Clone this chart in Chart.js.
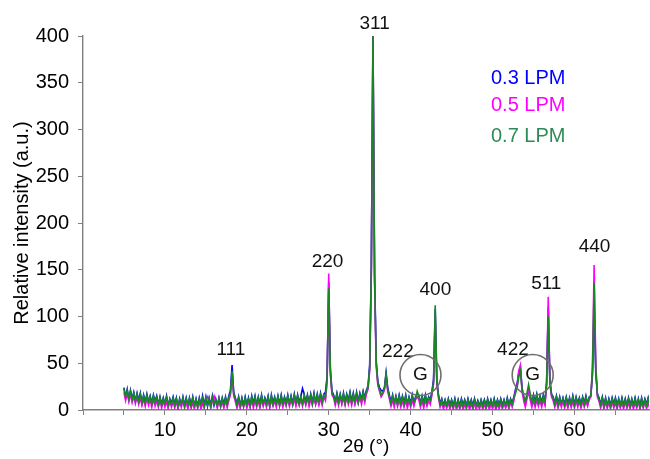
<!DOCTYPE html>
<html>
<head>
<meta charset="utf-8">
<script src="https://cdn.jsdelivr.net/npm/chart.js@4.4.1/dist/chart.umd.min.js"></script>
<style>
  html, body { margin: 0; padding: 0; background: #fff; }
</style>
</head>
<body>
<canvas id="xrd" width="650" height="459"></canvas>
<script>
// 2θ sampling positions (degrees)
const twoTheta = [
  5, 5.2, 5.4, 5.6, 5.8, 6, 6.2, 6.4, 6.6, 6.8,
  7, 7.2, 7.4, 7.6, 7.8, 8, 8.2, 8.4, 8.6, 8.8,
  9, 9.2, 9.4, 9.6, 9.8, 10, 10.2, 10.4, 10.6, 10.8,
  11, 11.2, 11.4, 11.6, 11.8, 12, 12.2, 12.4, 12.6, 12.8,
  13, 13.2, 13.4, 13.6, 13.8, 14, 14.2, 14.4, 14.6, 14.8,
  15, 15.2, 15.4, 15.6, 15.8, 16, 16.2, 16.4, 16.6, 16.8,
  17, 17.2, 17.4, 17.6, 17.8, 18, 18.2, 18.4, 18.6, 18.8,
  19, 19.2, 19.4, 19.6, 19.8, 20, 20.2, 20.4, 20.6, 20.8,
  21, 21.2, 21.4, 21.6, 21.8, 22, 22.2, 22.4, 22.6, 22.8,
  23, 23.2, 23.4, 23.6, 23.8, 24, 24.2, 24.4, 24.6, 24.8,
  25, 25.2, 25.4, 25.6, 25.8, 26, 26.2, 26.4, 26.6, 26.8,
  27, 27.2, 27.4, 27.6, 27.8, 28, 28.2, 28.4, 28.6, 28.8,
  29, 29.2, 29.4, 29.6, 29.8, 30, 30.2, 30.4, 30.6, 30.8,
  31, 31.2, 31.4, 31.6, 31.8, 32, 32.2, 32.4, 32.6, 32.8,
  33, 33.2, 33.4, 33.6, 33.8, 34, 34.2, 34.4, 34.6, 34.8,
  35, 35.2, 35.4, 35.6, 35.8, 36, 36.2, 36.4, 36.6, 36.8,
  37, 37.2, 37.4, 37.6, 37.8, 38, 38.2, 38.4, 38.6, 38.8,
  39, 39.2, 39.4, 39.6, 39.8, 40, 40.2, 40.4, 40.6, 40.8,
  41, 41.2, 41.4, 41.6, 41.8, 42, 42.2, 42.4, 42.6, 42.8,
  43, 43.2, 43.4, 43.6, 43.8, 44, 44.2, 44.4, 44.6, 44.8,
  45, 45.2, 45.4, 45.6, 45.8, 46, 46.2, 46.4, 46.6, 46.8,
  47, 47.2, 47.4, 47.6, 47.8, 48, 48.2, 48.4, 48.6, 48.8,
  49, 49.2, 49.4, 49.6, 49.8, 50, 50.2, 50.4, 50.6, 50.8,
  51, 51.2, 51.4, 51.6, 51.8, 52, 52.2, 52.4, 52.6, 52.8,
  53, 53.2, 53.4, 53.6, 53.8, 54, 54.2, 54.4, 54.6, 54.8,
  55, 55.2, 55.4, 55.6, 55.8, 56, 56.2, 56.4, 56.6, 56.8,
  57, 57.2, 57.4, 57.6, 57.8, 58, 58.2, 58.4, 58.6, 58.8,
  59, 59.2, 59.4, 59.6, 59.8, 60, 60.2, 60.4, 60.6, 60.8,
  61, 61.2, 61.4, 61.6, 61.8, 62, 62.2, 62.4, 62.6, 62.8,
  63, 63.2, 63.4, 63.6, 63.8, 64, 64.2, 64.4, 64.6, 64.8,
  65, 65.2, 65.4, 65.6, 65.8, 66, 66.2, 66.4, 66.6, 66.8,
  67, 67.2, 67.4, 67.6, 67.8, 68, 68.2, 68.4, 68.6, 68.8,
  69, 69.2, 69.4, 69.6
];

// intensities, one row per 2 degrees
const lpm03 = [
  24, 13, 22, 11, 21, 12, 19, 9, 18, 10,
  18, 7, 16, 8, 17, 8, 15, 7, 16, 9,
  15, 5, 14, 6, 13, 6, 15, 4, 12, 7,
  14, 6, 13, 3, 12, 5, 14, 5, 13, 4,
  13, 5, 14, 4, 12, 4, 13, 5, 15, 5,
  14, 4, 13, 5, 15, 5, 12, 4, 13, 5,
  13, 6, 14, 5, 15, 21, 48, 19, 13, 6,
  14, 4, 13, 5, 14, 5, 13, 4, 15, 7,
  15, 5, 14, 6, 16, 6, 13, 7, 15, 4,
  16, 7, 14, 6, 15, 6, 16, 6, 14, 7,
  16, 6, 15, 7, 17, 7, 16, 7, 15, 23,
  17, 8, 16, 7, 17, 8, 18, 7, 17, 8,
  18, 9, 17, 19, 36, 137, 44, 20, 16, 9,
  18, 9, 17, 8, 18, 8, 17, 10, 19, 9,
  18, 8, 19, 9, 18, 11, 20, 13, 21, 26,
  48, 155, 400, 145, 52, 30, 24, 21, 20, 24,
  40, 24, 16, 8, 16, 7, 15, 7, 16, 8,
  15, 7, 16, 6, 14, 7, 16, 7, 14, 17,
  16, 6, 15, 7, 16, 7, 14, 11, 20, 33,
  108, 32, 16, 7, 12, 5, 11, 4, 12, 5,
  11, 4, 12, 3, 11, 4, 12, 5, 11, 4,
  12, 5, 11, 4, 12, 4, 10, 4, 11, 5,
  11, 4, 12, 5, 11, 4, 12, 4, 11, 5,
  12, 5, 11, 4, 13, 5, 12, 7, 14, 22,
  28, 40, 46, 24, 14, 9, 15, 22, 14, 7,
  16, 8, 17, 7, 15, 8, 16, 8, 30, 110,
  32, 17, 14, 7, 15, 6, 14, 6, 13, 6,
  14, 6, 13, 5, 15, 6, 14, 7, 13, 6,
  14, 7, 15, 6, 14, 15, 38, 112, 40, 17,
  13, 6, 14, 5, 13, 4, 12, 5, 13, 6,
  13, 5, 12, 4, 13, 5, 12, 4, 13, 5,
  12, 5, 13, 4, 12, 4, 13, 5, 12, 6,
  13, 5, 12, 4
];

const lpm05 = [
  19, 10, 18, 9, 17, 8, 15, 7, 14, 6,
  13, 5, 12, 4, 13, 5, 11, 3, 12, 4,
  10, 3, 11, 2, 10, 3, 9, 2, 10, 3,
  9, 2, 10, 1, 9, 3, 10, 2, 9, 1,
  9, 2, 8, 1, 10, 2, 9, 1, 8, 2,
  10, 14, 9, 2, 10, 15, 9, 2, 12, 3,
  9, 2, 10, 3, 10, 16, 38, 15, 9, 2,
  10, 2, 9, 3, 10, 2, 9, 3, 10, 2,
  11, 3, 10, 2, 11, 4, 10, 3, 11, 3,
  11, 4, 10, 3, 12, 4, 11, 3, 10, 4,
  12, 4, 11, 5, 12, 4, 11, 5, 12, 4,
  12, 5, 13, 4, 12, 5, 13, 6, 12, 5,
  13, 5, 14, 10, 30, 146, 38, 16, 13, 5,
  13, 5, 14, 6, 13, 5, 14, 6, 13, 5,
  14, 6, 13, 7, 14, 6, 15, 8, 17, 22,
  42, 145, 400, 135, 46, 26, 20, 14, 17, 21,
  35, 20, 12, 4, 11, 3, 12, 4, 11, 3,
  10, 3, 11, 2, 10, 3, 11, 4, 11, 14,
  11, 3, 10, 2, 11, 4, 10, 6, 16, 28,
  100, 28, 13, 3, 8, 1, 7, 2, 8, 1,
  7, 1, 8, 0, 7, 1, 8, 0, 7, 1,
  8, 0, 7, 1, 8, 0, 7, 1, 8, 0,
  7, 1, 8, 0, 7, 1, 8, 0, 7, 1,
  8, 1, 7, 2, 8, 1, 9, 3, 10, 20,
  26, 42, 48, 20, 10, 3, 12, 20, 11, 3,
  10, 3, 11, 4, 10, 3, 11, 5, 26, 121,
  28, 14, 10, 3, 10, 2, 9, 3, 10, 2,
  9, 2, 10, 3, 9, 2, 10, 3, 9, 2,
  10, 3, 9, 4, 11, 14, 46, 155, 50, 14,
  9, 2, 10, 1, 9, 2, 8, 1, 9, 2,
  8, 1, 9, 2, 8, 1, 9, 2, 8, 1,
  9, 1, 8, 2, 9, 1, 8, 2, 9, 1,
  8, 1, 9, 2
];

const lpm07 = [
  23, 14, 21, 12, 20, 11, 18, 10, 17, 9,
  17, 8, 15, 7, 16, 9, 14, 6, 15, 8,
  14, 6, 13, 5, 12, 7, 14, 5, 11, 6,
  13, 5, 12, 4, 11, 6, 13, 4, 12, 5,
  12, 4, 13, 5, 11, 3, 12, 6, 13, 4,
  13, 5, 12, 4, 14, 6, 11, 5, 12, 4,
  12, 5, 13, 6, 14, 18, 42, 17, 12, 5,
  13, 5, 12, 4, 13, 6, 12, 5, 14, 6,
  14, 6, 13, 5, 15, 7, 12, 6, 14, 5,
  15, 6, 13, 7, 14, 5, 15, 7, 13, 6,
  15, 7, 14, 6, 16, 8, 15, 6, 14, 7,
  16, 7, 15, 8, 16, 7, 17, 8, 16, 9,
  17, 8, 16, 13, 32, 130, 40, 18, 15, 8,
  17, 8, 16, 9, 17, 7, 16, 9, 18, 8,
  17, 9, 18, 8, 17, 10, 19, 12, 21, 24,
  45, 150, 400, 140, 50, 28, 22, 16, 19, 23,
  38, 22, 14, 7, 15, 8, 14, 6, 15, 7,
  14, 6, 15, 7, 13, 6, 15, 8, 12, 20,
  15, 7, 14, 6, 15, 8, 13, 10, 18, 30,
  112, 30, 15, 6, 11, 4, 10, 5, 11, 4,
  10, 3, 11, 4, 10, 3, 11, 4, 10, 3,
  11, 4, 10, 3, 11, 5, 9, 3, 10, 4,
  10, 3, 11, 4, 10, 5, 11, 3, 10, 4,
  11, 4, 10, 5, 12, 4, 11, 6, 13, 18,
  24, 35, 42, 22, 15, 8, 18, 27, 17, 8,
  15, 7, 16, 8, 14, 7, 15, 9, 28, 100,
  30, 16, 13, 6, 14, 5, 13, 7, 12, 5,
  13, 5, 12, 6, 14, 5, 13, 6, 12, 5,
  13, 6, 14, 7, 13, 16, 42, 136, 45, 16,
  12, 5, 13, 4, 12, 5, 11, 4, 12, 5,
  12, 4, 11, 5, 12, 4, 11, 5, 12, 4,
  11, 4, 12, 5, 11, 3, 12, 4, 11, 5,
  12, 4, 11, 5
];

const seriesNames = ['0.3 LPM', '0.5 LPM', '0.7 LPM'];
const seriesColors = ['#0000ff', '#ff00ff', '#15891f'];
const legendColors = ['#0000ff', '#ff00ff', '#2e8b57'];

// reflection labels (hkl) and the G phase markers, in data units
const peakLabels = ['111', '220', '311', '222', '400', '422', '511', '440'];
const peakLabelX = [18.05, 29.86, 35.6, 38.44, 43.02, 52.49, 56.56, 62.45];
const peakLabelY = [64.5, 158.6, 413.4, 62, 128.3, 64, 134.8, 174.6];
const gPhaseX = [41.2, 54.9];
const gPhaseY = [37.4, 37.4];

const FONT = "'Liberation Sans', Arial, Helvetica, sans-serif";

function toPoints(values) {
  return values.map((v, i) => ({ x: twoTheta[i], y: v }));
}

const annotations = {
  id: 'annotations',
  afterDatasetsDraw(chart) {
    const { ctx, scales } = chart;
    const xs = scales.x;
    const ys = scales.y;
    ctx.save();
    ctx.fillStyle = '#111';
    ctx.font = `19px ${FONT}`;
    ctx.textAlign = 'center';
    ctx.textBaseline = 'middle';
    peakLabels.forEach((txt, i) => {
      ctx.fillText(txt, xs.getPixelForValue(peakLabelX[i]), ys.getPixelForValue(peakLabelY[i]));
    });

    // G marks: circle drawn in pixels around a data point
    gPhaseX.forEach((gx, i) => {
      const px = xs.getPixelForValue(gx);
      const py = ys.getPixelForValue(gPhaseY[i]);
      ctx.beginPath();
      ctx.arc(px, py, 20.5, 0, Math.PI * 2);
      ctx.strokeStyle = '#6e6e6e';
      ctx.lineWidth = 1.6;
      ctx.stroke();
      ctx.fillStyle = '#111';
      ctx.fillText('G', px, py);
    });

    // legend as coloured text only
    ctx.textAlign = 'left';
    ctx.font = `20px ${FONT}`;
    const legendY = [78, 105, 136.5];
    seriesNames.forEach((name, i) => {
      ctx.fillStyle = legendColors[i];
      ctx.fillText(name, 491, legendY[i]);
    });
    ctx.restore();
  }
};

const axisGrey = '#808080';

new Chart(document.getElementById('xrd'), {
  type: 'line',
  data: {
    datasets: [
      { label: seriesNames[0], data: toPoints(lpm03), borderColor: seriesColors[0], order: 2 },
      { label: seriesNames[1], data: toPoints(lpm05), borderColor: seriesColors[1], order: 1 },
      { label: seriesNames[2], data: toPoints(lpm07), borderColor: seriesColors[2], order: 0 }
    ].map(ds => Object.assign(ds, {
      borderWidth: 1.6,
      pointRadius: 0,
      tension: 0,
      fill: false
    }))
  },
  options: {
    responsive: false,
    animation: false,
    layout: { padding: { top: 36, right: 1, left: 0, bottom: 0 } },
    plugins: {
      legend: { display: false },
      tooltip: { enabled: false }
    },
    scales: {
      x: {
        type: 'linear',
        min: 0,
        max: 69.1,
        afterFit: scale => { scale.height = 49; },
        ticks: {
          stepSize: 5,
          includeBounds: false,
          autoSkip: false,
          maxRotation: 0,
          padding: 3,
          color: '#000',
          font: { family: FONT, size: 20 },
          callback: v => (v > 0 && v % 10 === 0 ? String(v) : '')
        },
        grid: { drawOnChartArea: false, drawTicks: true, tickLength: 5, color: axisGrey, lineWidth: 1 },
        border: { display: true, color: axisGrey, width: 1.4 },
        title: {
          display: true,
          text: '2θ (°)',
          color: '#000',
          font: { family: FONT, size: 19 },
          padding: { top: 0, bottom: 1 }
        }
      },
      y: {
        min: 0,
        max: 400,
        afterFit: scale => { scale.width = 83; },
        ticks: {
          stepSize: 50,
          padding: 9,
          color: '#000',
          font: { family: FONT, size: 20 }
        },
        grid: { drawOnChartArea: false, drawTicks: true, tickLength: 5, color: axisGrey, lineWidth: 1 },
        border: { display: true, color: axisGrey, width: 1.4 },
        title: {
          display: true,
          text: 'Relative intensity (a.u.)',
          color: '#000',
          font: { family: FONT, size: 20 },
          padding: { top: 10, bottom: 0 }
        }
      }
    }
  },
  plugins: [annotations]
});
</script>
</body>
</html>
